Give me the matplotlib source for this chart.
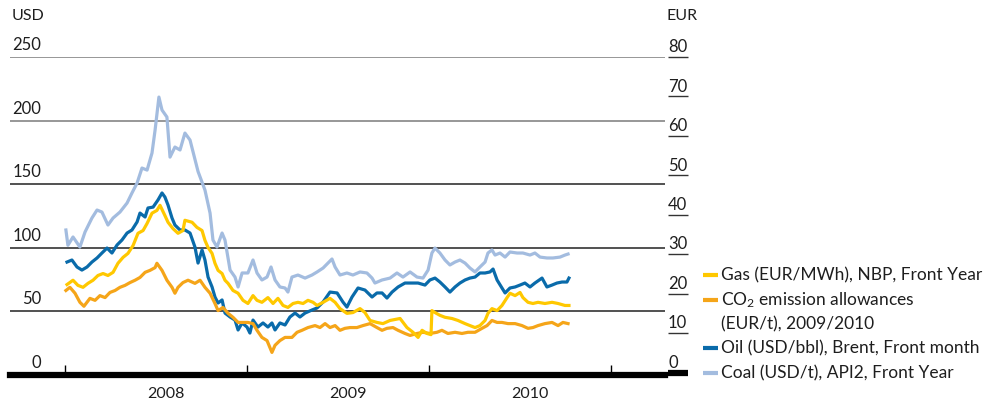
import matplotlib
matplotlib.use("Agg")
import matplotlib.pyplot as plt
import matplotlib.transforms as mtransforms
from matplotlib.lines import Line2D

plt.rcParams['font.family'] = ['Lato', 'DejaVu Sans']
plt.rcParams['mathtext.fontset'] = 'custom'
plt.rcParams['mathtext.rm'] = 'Lato'
plt.rcParams['mathtext.it'] = 'Lato'

# ---- data (time in fractional years) ----
coal_t = [2008.005, 2008.016, 2008.044, 2008.082, 2008.110, 2008.148, 2008.176, 2008.203, 2008.236, 2008.264,
          2008.302, 2008.341, 2008.368, 2008.396, 2008.423, 2008.451, 2008.478, 2008.495, 2008.516, 2008.533,
          2008.560, 2008.577, 2008.604, 2008.632, 2008.659, 2008.687, 2008.731, 2008.769, 2008.797, 2008.813,
          2008.835, 2008.863, 2008.879, 2008.907, 2008.934, 2008.951, 2008.973, 2009.005, 2009.033, 2009.055,
          2009.082, 2009.110, 2009.132, 2009.154, 2009.181, 2009.209, 2009.225, 2009.247, 2009.280, 2009.319,
          2009.357, 2009.385, 2009.418, 2009.445, 2009.467, 2009.484, 2009.511, 2009.549, 2009.582, 2009.621,
          2009.659, 2009.687, 2009.703, 2009.742, 2009.786, 2009.824, 2009.857, 2009.896, 2009.934, 2009.967,
          2009.995, 2010.016, 2010.033, 2010.060, 2010.088, 2010.115, 2010.143, 2010.170, 2010.198, 2010.225,
          2010.253, 2010.280, 2010.308, 2010.324, 2010.346, 2010.363, 2010.390, 2010.418, 2010.445, 2010.484,
          2010.516, 2010.555, 2010.582, 2010.610, 2010.648, 2010.681, 2010.720, 2010.747, 2010.764]
coal_usd = [114, 102, 108.5, 100.6, 112.4, 123.4, 129.7, 128.1, 117.9, 123.4,
            128.1, 135.2, 143.1, 150.9, 162.7, 161.1, 174.5, 192.6, 218.5, 208.3,
            202.8, 171.3, 179.2, 176.9, 190.2, 184.7, 160.0, 145.4, 127.3, 106.1,
            100.6, 111.6, 106.1, 82.5, 77.0, 69.2, 80.2, 80.2, 90.4, 80.2,
            74.7, 77.0, 84.9, 74.7, 69.2, 68.4, 65.2, 77.0, 78.6, 76.2,
            78.6, 81.0, 84.1, 88.0, 91.2, 84.9, 78.6, 80.2, 78.6, 81.0,
            80.2, 76.2, 72.3, 74.7, 76.2, 80.2, 77.0, 81.0, 77.0, 76.2,
            82.5, 95.9, 99.8, 95.9, 90.4, 86.5, 88.8, 90.4, 88.0, 84.1,
            81.0, 84.9, 88.8, 95.9, 98.3, 94.3, 95.9, 92.7, 96.7, 95.9,
            95.9, 94.3, 95.9, 92.7, 92.0, 92.0, 92.7, 94.3, 95.1]

oil_t = [2008.011, 2008.038, 2008.066, 2008.093, 2008.121, 2008.148, 2008.176, 2008.203, 2008.231, 2008.258,
         2008.286, 2008.313, 2008.341, 2008.368, 2008.396, 2008.412, 2008.440, 2008.456, 2008.484, 2008.511,
         2008.533, 2008.549, 2008.566, 2008.588, 2008.604, 2008.632, 2008.659, 2008.687, 2008.714, 2008.731,
         2008.753, 2008.769, 2008.786, 2008.808, 2008.824, 2008.841, 2008.863, 2008.879, 2008.907, 2008.934,
         2008.951, 2008.973, 2009.000, 2009.016, 2009.033, 2009.060, 2009.088, 2009.115, 2009.137, 2009.154,
         2009.181, 2009.209, 2009.236, 2009.264, 2009.291, 2009.319, 2009.357, 2009.385, 2009.418, 2009.456,
         2009.495, 2009.527, 2009.549, 2009.577, 2009.610, 2009.648, 2009.687, 2009.714, 2009.742, 2009.769,
         2009.797, 2009.830, 2009.868, 2009.907, 2009.940, 2009.978, 2010.005, 2010.033, 2010.060, 2010.088,
         2010.115, 2010.143, 2010.170, 2010.198, 2010.225, 2010.253, 2010.280, 2010.308, 2010.335, 2010.352,
         2010.374, 2010.401, 2010.418, 2010.445, 2010.473, 2010.500, 2010.527, 2010.555, 2010.582, 2010.621,
         2010.648, 2010.676, 2010.703, 2010.731, 2010.758, 2010.769]
oil_usd = [88.8, 90.4, 84.9, 82.5, 84.9, 88.8, 92.0, 95.9, 99.8, 95.9,
           102.2, 106.1, 111.6, 114.0, 120.3, 127.3, 124.2, 131.3, 132.0, 137.6,
           143.1, 139.9, 133.6, 123.4, 117.9, 114.0, 114.0, 111.6, 100.6, 88.0,
           98.3, 90.4, 77.0, 69.2, 61.3, 56.6, 59.0, 48.7, 45.6, 43.2,
           35.4, 40.9, 37.7, 33.0, 43.2, 37.7, 40.9, 37.7, 40.9, 35.4,
           40.9, 39.3, 45.6, 48.7, 45.6, 48.7, 51.1, 52.7, 57.4, 65.2,
           64.5, 57.4, 53.4, 61.3, 68.4, 66.8, 61.3, 64.5, 64.5, 60.5,
           65.2, 69.2, 72.3, 72.3, 72.3, 70.7, 74.7, 76.2, 73.1, 69.2,
           65.2, 69.2, 72.3, 74.7, 76.2, 77.0, 80.2, 80.2, 81.0, 83.3,
           74.7, 68.4, 64.5, 68.4, 69.2, 70.7, 72.3, 69.2, 72.3, 76.2,
           69.2, 70.7, 72.3, 73.1, 73.1, 76.2]

gas_t = [2008.011, 2008.044, 2008.071, 2008.099, 2008.126, 2008.154, 2008.181, 2008.209, 2008.236, 2008.264,
         2008.291, 2008.319, 2008.346, 2008.374, 2008.401, 2008.429, 2008.451, 2008.478, 2008.505, 2008.522,
         2008.549, 2008.566, 2008.593, 2008.621, 2008.648, 2008.659, 2008.698, 2008.725, 2008.753, 2008.769,
         2008.786, 2008.808, 2008.824, 2008.841, 2008.863, 2008.879, 2008.896, 2008.923, 2008.951, 2008.978,
         2009.005, 2009.033, 2009.055, 2009.082, 2009.115, 2009.143, 2009.170, 2009.198, 2009.225, 2009.253,
         2009.280, 2009.308, 2009.335, 2009.363, 2009.385, 2009.418, 2009.456, 2009.484, 2009.511, 2009.549,
         2009.582, 2009.621, 2009.648, 2009.676, 2009.714, 2009.747, 2009.786, 2009.841, 2009.879, 2009.912,
         2009.940, 2009.962, 2009.989, 2010.011, 2010.016, 2010.033, 2010.060, 2010.088, 2010.126, 2010.159,
         2010.198, 2010.225, 2010.253, 2010.280, 2010.308, 2010.324, 2010.346, 2010.374, 2010.401, 2010.429,
         2010.445, 2010.473, 2010.500, 2010.516, 2010.544, 2010.571, 2010.599, 2010.637, 2010.676, 2010.709,
         2010.747, 2010.769]
gas_eur = [22.3, 23.4, 22.1, 21.6, 22.6, 23.4, 24.6, 25.1, 24.6, 25.4,
           27.7, 29.2, 30.2, 32.2, 35.3, 36.0, 37.8, 40.4, 41.1, 42.4,
           39.8, 38.1, 36.5, 35.3, 36.0, 38.6, 38.1, 36.8, 36.0, 33.5,
           31.7, 30.2, 27.7, 25.9, 25.1, 23.4, 22.6, 20.8, 20.1, 18.3,
           17.5, 19.5, 18.3, 17.8, 19.0, 17.5, 18.8, 17.0, 16.5, 17.5,
           17.8, 17.5, 18.3, 17.8, 17.0, 17.8, 18.8, 17.8, 16.2, 15.0,
           15.2, 16.2, 15.2, 13.2, 12.7, 12.4, 13.2, 13.7, 11.4, 10.2,
           8.9, 10.7, 9.9, 9.6, 15.7, 15.2, 14.5, 14.0, 13.7, 13.2,
           12.4, 11.9, 11.4, 11.9, 13.2, 15.0, 16.2, 15.7, 17.0, 19.0,
           20.1, 19.5, 20.3, 19.0, 17.8, 17.5, 17.8, 17.5, 17.8, 17.5,
           17.0, 17.0]

co2_t = [2008.005, 2008.027, 2008.055, 2008.082, 2008.104, 2008.137, 2008.165, 2008.192, 2008.220, 2008.247,
         2008.275, 2008.302, 2008.330, 2008.357, 2008.385, 2008.412, 2008.440, 2008.467, 2008.495, 2008.505,
         2008.533, 2008.560, 2008.588, 2008.604, 2008.621, 2008.648, 2008.676, 2008.714, 2008.742, 2008.769,
         2008.797, 2008.824, 2008.841, 2008.868, 2008.896, 2008.923, 2008.951, 2008.978, 2009.005, 2009.033,
         2009.055, 2009.082, 2009.110, 2009.137, 2009.154, 2009.181, 2009.209, 2009.247, 2009.275, 2009.302,
         2009.335, 2009.374, 2009.401, 2009.429, 2009.456, 2009.484, 2009.511, 2009.538, 2009.566, 2009.604,
         2009.637, 2009.676, 2009.714, 2009.742, 2009.769, 2009.802, 2009.830, 2009.868, 2009.896, 2009.934,
         2009.967, 2010.005, 2010.044, 2010.071, 2010.104, 2010.143, 2010.181, 2010.214, 2010.253, 2010.291,
         2010.319, 2010.346, 2010.374, 2010.401, 2010.434, 2010.473, 2010.511, 2010.544, 2010.571, 2010.599,
         2010.637, 2010.676, 2010.709, 2010.736, 2010.764]
co2_eur = [20.8, 21.6, 20.1, 17.8, 16.8, 18.8, 18.3, 19.5, 19.0, 20.3,
           20.8, 21.6, 22.1, 22.8, 23.4, 24.1, 25.4, 25.9, 26.6, 27.7,
           25.9, 23.4, 21.6, 20.1, 21.6, 22.8, 23.4, 22.6, 23.4, 21.6,
           20.1, 17.5, 15.7, 16.5, 15.0, 14.0, 12.7, 12.7, 12.7, 12.4,
           10.7, 8.9, 8.1, 5.1, 6.9, 8.1, 8.9, 8.9, 10.2, 10.7,
           11.4, 11.9, 11.4, 12.4, 11.4, 11.9, 10.7, 11.2, 11.4, 11.4,
           11.9, 12.4, 11.4, 10.7, 11.2, 11.4, 10.7, 9.9, 9.4, 9.9,
           10.2, 9.9, 10.2, 10.7, 9.9, 10.2, 9.9, 10.2, 10.2, 11.2,
           11.9, 13.2, 12.7, 12.7, 12.4, 12.4, 11.9, 11.2, 11.4, 11.9,
           12.4, 12.7, 11.9, 12.7, 12.4]

usd_ticks = [0, 50, 100, 150, 200, 250]
eur_ticks = [0, 10, 20, 30, 40, 50, 60, 70, 80]
years = [2008, 2009, 2010]
year_edges = [2008, 2009, 2010, 2011]

labels = ['Gas (EUR/MWh), NBP, Front Year',
          'CO$_\\mathrm{2}$ emission allowances',
          'Oil (USD/bbl), Brent, Front month',
          'Coal (USD/t), API2, Front Year']
label_cont = '(EUR/t), 2009/2010'

c_gas = '#FFC800'
c_co2 = '#F5A519'
c_oil = '#0A6BAA'
c_coal = '#A3BCDF'
txt = '#1e1e1e'

W, H = 995, 404
fig = plt.figure(figsize=(W / 100, H / 100), dpi=100)
ax = fig.add_axes([10 / W, 29 / H, 655 / W, 318 / H])
ax.set_xlim(2008 - 55 / 182, 2008 + 600 / 182)
ax.set_ylim(0, 250)
ax.axis('off')

ax2 = ax.twinx()
ax2.set_ylim(-0.63, 80)
ax2.axis('off')

# grid
for v in usd_ticks[1:]:
    col = '#7a7a7a' if v >= 200 else '#222222'
    ax.axhline(v, color=col, lw=1.1, zorder=1)
ax.axhline(0, color='black', lw=4.5, clip_on=False, zorder=5)
ax.vlines(year_edges, 0, 8, color='black', lw=1, zorder=5)

lt = mtransforms.blended_transform_factory(ax.transAxes, ax.transData)
for v in usd_ticks:
    ax.text(0.0473, v + 5.5, str(v), ha='right', va='baseline', fontsize=12,
            color=txt, transform=lt)

rt = mtransforms.blended_transform_factory(ax2.transAxes, ax2.transData)
for v in eur_ticks:
    if v == 0:
        ax2.plot([1.0046, 1.0351], [v, v], color='black', lw=4.5, transform=rt,
                 clip_on=False, solid_capstyle='butt')
    else:
        ax2.plot([1.0046, 1.0351], [v, v], color='#333333', lw=1, transform=rt,
                 clip_on=False, solid_capstyle='butt')
    ax2.text(1.0046, v + 1.2, str(v), ha='left', va='baseline', fontsize=12,
             color=txt, transform=rt)

# year labels
yt = mtransforms.blended_transform_factory(ax.transData, fig.transFigure)
for y in years:
    ax.text(y + 0.555, 1 - 398 / H, str(y), ha='center', va='baseline',
            fontsize=11.5, color=txt, transform=yt)

fig.text(12 / W, 1 - 20 / H, 'USD', ha='left', va='baseline', fontsize=11.5, color=txt)
fig.text(666 / W, 1 - 20 / H, 'EUR', ha='left', va='baseline', fontsize=11.5, color=txt)

# series
ax.plot(coal_t, coal_usd, color=c_coal, lw=2.3, zorder=2)
ax.plot(oil_t, oil_usd, color=c_oil, lw=2.3, zorder=3)
ax2.plot(co2_t, co2_eur, color=c_co2, lw=2.3, zorder=3)
ax2.plot(gas_t, gas_eur, color=c_gas, lw=2.3, zorder=4)

# legend
leg_y = [275, 300, 348, 373]
leg_c = [c_gas, c_co2, c_oil, c_coal]
for yy, cc, lab in zip(leg_y, leg_c, labels):
    fig.add_artist(Line2D([703 / W, 718 / W], [1 - yy / H, 1 - yy / H], color=cc,
                          lw=3, solid_capstyle='butt', transform=fig.transFigure))
    fig.text(721 / W, 1 - (yy + 5) / H, lab, ha='left', va='baseline', fontsize=12.5,
             color=txt)
fig.text(721 / W, 1 - (324 + 5) / H, label_cont, ha='left', va='baseline', fontsize=12.5,
         color=txt)

fig.savefig('out.png', dpi=100)
